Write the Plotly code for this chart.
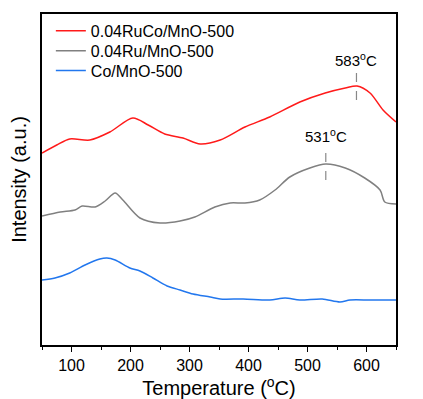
import plotly.graph_objects as go

# Temperature (°C) and intensity (arbitrary units)
red_T = [50, 75, 97, 131, 165, 204, 230, 258, 289, 318, 352, 394, 436, 487, 530, 564, 584, 606, 628, 650]
red_I = [192, 200, 206, 205, 213, 227, 220, 211, 207, 201, 205, 218, 228, 243, 252, 257, 259, 252, 235, 223]

gray_T = [50, 81, 106, 118, 140, 157, 174, 187, 216, 250, 284, 309, 343, 369, 394, 419, 445, 470, 504, 531, 564, 597, 623, 631, 650]
gray_I = [129, 133, 135, 139, 138, 144, 152, 145, 127, 122, 124, 128, 138, 142, 142, 145, 155, 168, 177, 181, 177, 167, 155, 143, 141]

blue_T = [50, 72, 97, 123, 148, 160, 174, 199, 216, 238, 262, 284, 306, 335, 352, 391, 436, 462, 487, 525, 555, 572, 606, 650]
blue_I = [65, 67, 72, 80, 86, 87, 85, 77, 74, 67, 59, 55, 51, 48, 46, 46, 45, 47, 45, 46, 43, 45, 45, 45]

peak_labels = ["583<sup>o</sup>C", "531<sup>o</sup>C"]
peak_T = [583, 531]
peak_line = [[245, 275], [165, 197]]
peak_text_I = [274, 198]

series = [
    ("0.04RuCo/MnO-500", red_T, red_I, "#ff1a1a"),
    ("0.04Ru/MnO-500", gray_T, gray_I, "#808080"),
    ("Co/MnO-500", blue_T, blue_I, "#2277ee"),
]
legend_ids = ["legend", "legend2", "legend3"]
legend_rows_y = [0.949, 0.889, 0.829]

fig = go.Figure()
for (name, xs, ys, col), lid in zip(series, legend_ids):
    fig.add_trace(go.Scatter(x=xs, y=ys, mode="lines", name=name, legend=lid,
                             line=dict(color=col, width=1.5, shape="spline", smoothing=0.8)))

for lab, t, (y0, y1), ty in zip(peak_labels, peak_T, peak_line, peak_text_I):
    fig.add_shape(type="line", x0=t, x1=t, y0=y0, y1=y1, xref="x", yref="y",
                  line=dict(color="#888888", width=1.2, dash="dash"))
    fig.add_annotation(x=t, y=ty, text=lab, showarrow=False, xref="x", yref="y",
                       font=dict(size=15, color="black"), yanchor="bottom")

legend_style = dict(x=0.025, xanchor="left", yanchor="middle",
                    font=dict(size=16), bgcolor="rgba(0,0,0,0)")
legends = {lid: dict(legend_style, y=ly) for lid, ly in zip(legend_ids, legend_rows_y)}

fig.update_layout(
    width=423, height=399,
    margin=dict(l=42, r=27, t=14, b=54),
    paper_bgcolor="white", plot_bgcolor="white",
    font=dict(family="Arial, Liberation Sans, sans-serif", color="black"),
    showlegend=True,
    **legends,
    xaxis=dict(range=[50, 650], tickvals=[100, 200, 300, 400, 500, 600],
               ticks="outside", ticklen=5, tickwidth=1.2, tickcolor="black",
               minor=dict(tickvals=[50, 150, 250, 350, 450, 550, 650], ticks="outside",
                          ticklen=3, tickcolor="black"),
               showline=True, linecolor="black", linewidth=1.5, mirror=True,
               showgrid=False, zeroline=False, tickfont=dict(size=16), automargin=False,
               title=dict(text="Temperature (<sup>o</sup>C)", font=dict(size=20), standoff=2)),
    yaxis=dict(range=[0, 331], showticklabels=False, ticks="",
               showline=True, linecolor="black", linewidth=1.5, mirror=True,
               showgrid=False, zeroline=False, automargin=False,
               title=dict(text="Intensity (a.u.)", font=dict(size=20), standoff=8)),
)

fig.write_html("out.html", config={"displayModeBar": False},
               post_script="document.body.style.margin='0';")
